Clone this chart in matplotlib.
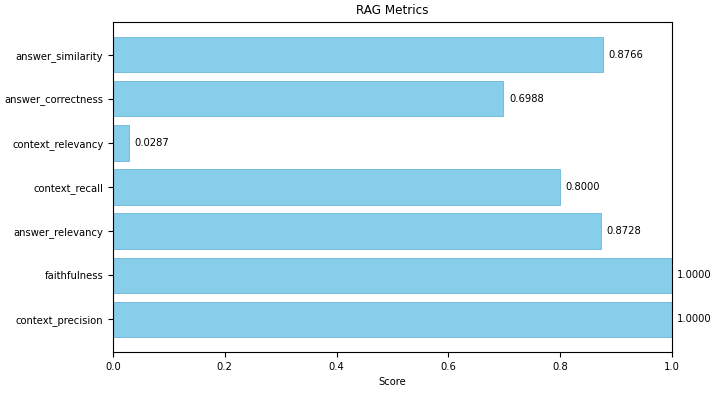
import matplotlib.pyplot as plt

metrics = ['context_precision', 'faithfulness', 'answer_relevancy', 'context_recall',
           'context_relevancy', 'answer_correctness', 'answer_similarity']
scores = [1.0, 1.0, 0.8728, 0.8, 0.0287, 0.6988, 0.8766]

plt.rcParams['font.size'] = 7.2

fig = plt.figure(figsize=(7.2, 3.95), dpi=100)
ax = fig.add_axes([0.157, 0.109, 0.776, 0.835])
bars = ax.barh(metrics, scores, color='skyblue', edgecolor='#76bcdc', linewidth=0.7)
for b, s in zip(bars, scores):
    ax.text(b.get_width() + 0.01, b.get_y() + b.get_height() / 2, f'{s:.4f}', va='center')
ax.set_xlim(0, 1)
ax.set_xlabel('Score')
ax.set_title('RAG Metrics')
fig.savefig('out.png')
